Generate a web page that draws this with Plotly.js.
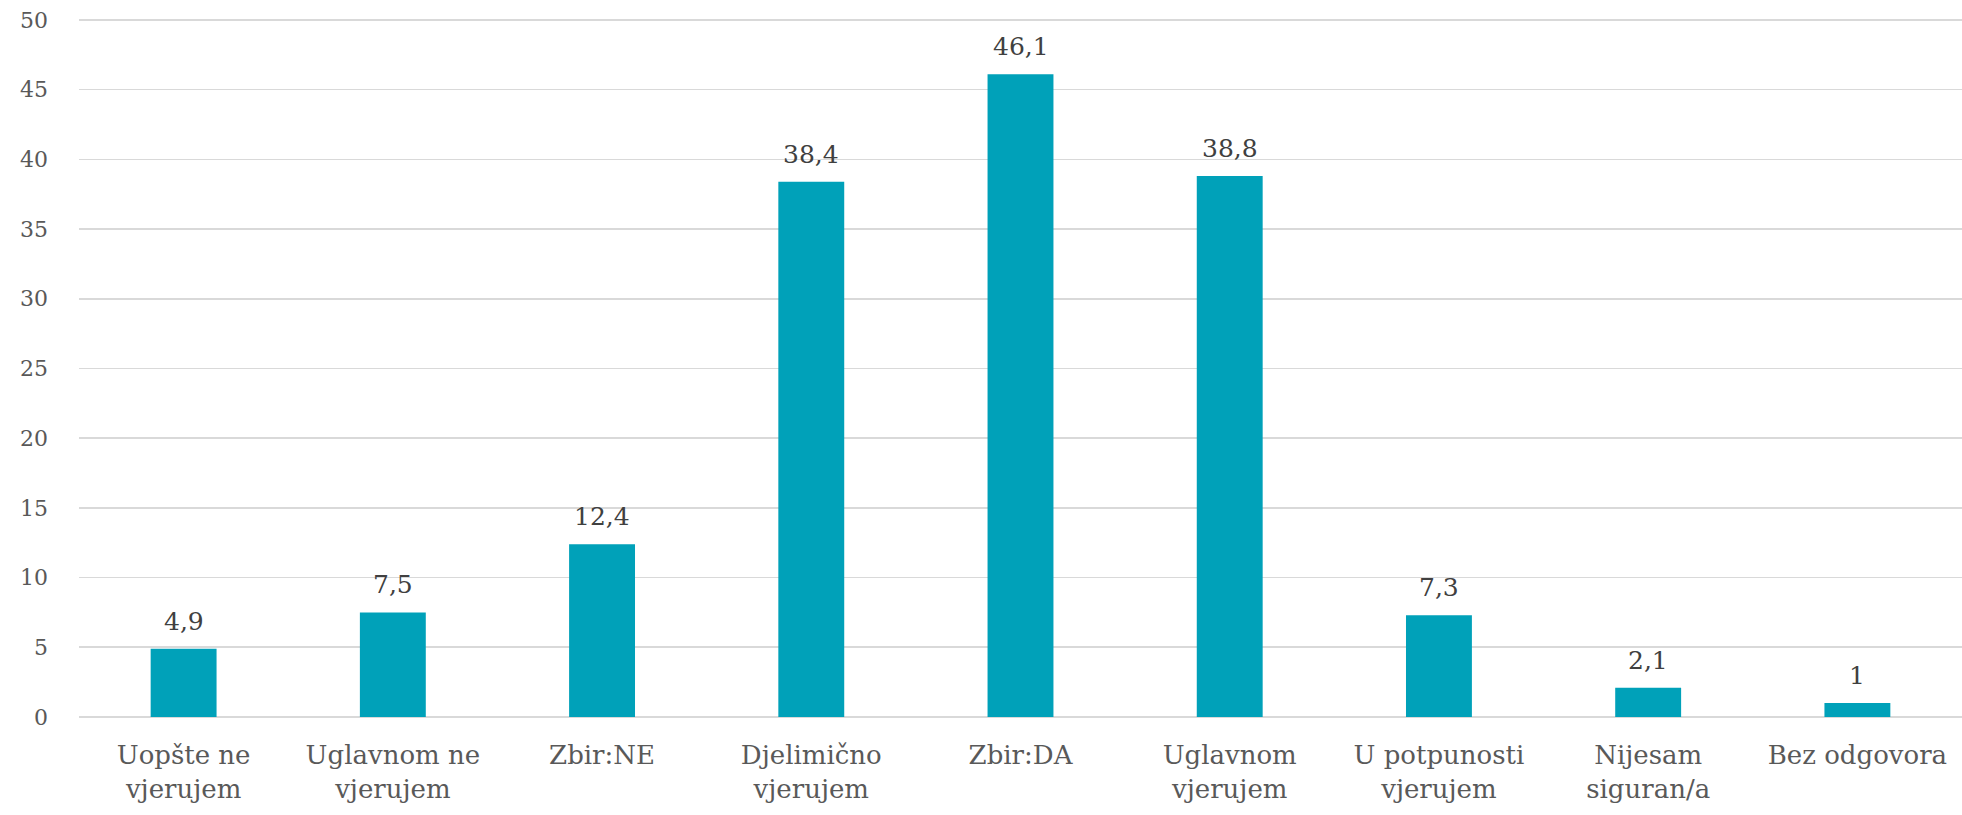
<!DOCTYPE html>
<html>
<head>
<meta charset="utf-8">
<script src="https://cdn.plot.ly/plotly-3.0.1.min.js"></script>
<style>html,body{margin:0;padding:0;background:#fff;}#chart{width:1962px;height:815px;}</style>
</head>
<body>
<div id="chart"></div>
<script>
const categories = ["Uopšte ne vjerujem","Uglavnom ne vjerujem","Zbir:NE","Djelimično vjerujem","Zbir:DA","Uglavnom vjerujem","U potpunosti vjerujem","Nijesam siguran/a","Bez odgovora"];
const tickLabels = ["Uopšte ne<br>vjerujem","Uglavnom ne<br>vjerujem","Zbir:NE","Djelimično<br>vjerujem","Zbir:DA","Uglavnom<br>vjerujem","U potpunosti<br>vjerujem","Nijesam<br>siguran/a","Bez odgovora"];
const values = [4.9, 7.5, 12.4, 38.4, 46.1, 38.8, 7.3, 2.1, 1];
const yTicks = [0,5,10,15,20,25,30,35,40,45,50];

const FONT = "DejaVu Serif, Liberation Serif, serif";

const trace = {
  type: 'bar',
  x: categories,
  y: values,
  marker: {color: '#00A1B9', line: {width: 0}},
  hoverinfo: 'none'
};

const labels = categories.map((c, i) => ({
  x: c,
  y: values[i],
  xref: 'x',
  yref: 'y',
  text: String(values[i]).replace('.', ','),
  showarrow: false,
  yanchor: 'bottom',
  yshift: 11,
  font: {family: FONT, size: 25, color: '#404040'}
}));

const layout = {
  width: 1962,
  height: 815,
  margin: {l: 79, r: 0, t: 12.5, b: 98},
  paper_bgcolor: '#ffffff',
  plot_bgcolor: '#ffffff',
  showlegend: false,
  bargap: 0.685,
  font: {family: FONT, color: '#595959'},
  annotations: labels,
  xaxis: {
    type: 'category',
    tickmode: 'array',
    tickvals: categories,
    ticktext: tickLabels,
    tickfont: {family: FONT, size: 26, color: '#595959'},
    showgrid: false,
    showline: false,
    zeroline: false,
    ticks: '',
    ticklabelstandoff: 20,
    fixedrange: true
  },
  yaxis: {
    range: [0, 50.5],
    tickmode: 'array',
    tickvals: yTicks,
    ticktext: yTicks.map(String),
    tickfont: {family: FONT, size: 22, color: '#595959'},
    showgrid: true,
    gridcolor: '#d9d9d9',
    gridwidth: 1.6,
    zeroline: true,
    zerolinecolor: '#d9d9d9',
    zerolinewidth: 1.6,
    showline: false,
    ticks: '',
    ticklabelstandoff: 30,
    fixedrange: true
  }
};

Plotly.newPlot('chart', [trace], layout, {displayModeBar: false, staticPlot: true});
</script>
</body>
</html>
